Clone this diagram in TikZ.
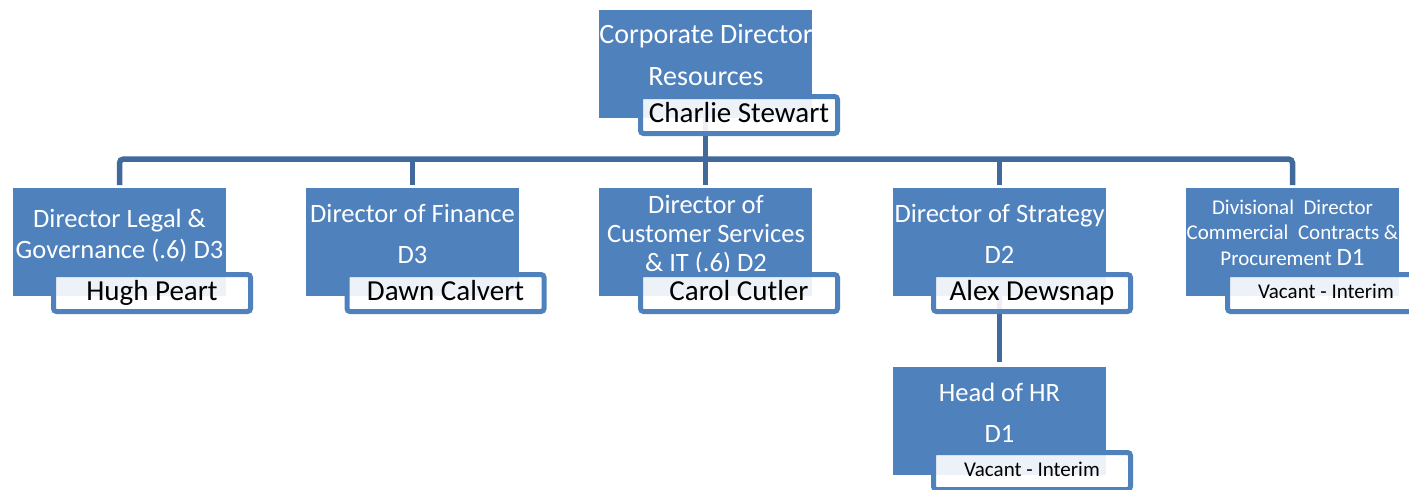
\documentclass[tikz,border=0pt]{standalone}
\usepackage{fontspec}
\setmainfont{Carlito}
\usetikzlibrary{calc}
\definecolor{boxblue}{HTML}{4F81BD}
\definecolor{lineblue}{HTML}{41699C}
\definecolor{rimblue}{HTML}{4F81BD}
\begin{document}
\begin{tikzpicture}[x=1pt,y=-1pt,
  rolebox/.style={fill=boxblue, draw=none, rectangle, minimum width=213pt, minimum height=108pt, anchor=north west, inner sep=0pt, outer sep=0pt},
  namebox/.style={rectangle, draw=rimblue, line width=5pt, rounded corners=3pt, fill=white, fill opacity=0.9, text opacity=1, minimum width=197pt, minimum height=37pt, inner sep=0pt, text=black},
  bigname/.style={namebox, font=\fontsize{29}{29}\selectfont, text height=20pt, text depth=6pt},
  smallname/.style={namebox, font=\fontsize{21}{21}\selectfont, text height=15pt, text depth=4pt},
  conn/.style={draw=lineblue, line width=5.5pt},
  roletext/.style={text=white, anchor=base, inner sep=0pt, font=\fontsize{26.5}{26.5}\selectfont},
  toptext/.style={roletext, font=\fontsize{28}{28}\selectfont},
  smalltext/.style={roletext, font=\fontsize{21}{21}\selectfont},
]
\useasboundingbox (0,0) rectangle (1409,490);
\clip (0,0) rectangle (1409,490);

% blue role boxes
\node[rolebox] (b0) at (599,10) {};
\node[rolebox] (b1) at (13,188) {};
\node[rolebox] (b2) at (306,188) {};
\node[rolebox] (b3) at (599,188) {};
\node[rolebox] (b4) at (893,188) {};
\node[rolebox] (b5) at (1186,188) {};
\node[rolebox] (b6) at (893,367) {};

% connectors
\coordinate (bus) at (706,159);
\draw[conn, rounded corners=4pt] ([yshift=3pt]b1.north) |- (bus) -| ([yshift=3pt]b5.north);
\draw[conn] (b0.south) -- ([yshift=3pt]b3.north);
\draw[conn] ([yshift=3pt]b2.north) -- (b2.north |- bus);
\draw[conn] ([yshift=3pt]b4.north) -- (b4.north |- bus);
\draw[conn] (b4.south) -- ([yshift=5pt]b6.north);

% role texts
\node[toptext] (t0a) at (706,43) {Corporate Director};
\node[toptext] (t0b) at (706,85) {Resources};

\node[roletext] (t1a) at (119.5,227) {Director Legal \&};
\node[roletext] (t1b) at (119.5,258) {Governance (.6) D3};

\node[roletext] (t2a) at (412.5,222) {Director of Finance};
\node[roletext] (t2b) at (412.5,263) {D3};

\node[roletext] (t3a) at (706,213) {Director of};
\node[roletext] (t3b) at (706,242) {Customer Services};
\node[roletext] (t3c) at (706,271) {\& IT (.6) D2};

\node[roletext] (t4a) at (999.5,222) {Director of Strategy};
\node[roletext] (t4b) at (999.5,263) {D2};

\node[smalltext] (t5a) at (1292.5,214) {Divisional\ \ Director};
\node[smalltext] (t5b) at (1292.5,239) {Commercial\ \ Contracts \&};
\node[smalltext] (t5c) at (1292.5,265) {Procurement {\fontsize{25}{25}\selectfont D1}};

\node[roletext] (t6a) at (999.5,401) {Head of HR};
\node[roletext] (t6b) at (999.5,442) {D1};

% name boxes
\node[bigname] (n0) at ($(b0.south west)+(140,-3)$) {Charlie Stewart};
\node[bigname] (n1) at ($(b1.south west)+(139,-3)$) {Hugh Peart};
\node[bigname] (n2) at ($(b2.south west)+(139.5,-3)$) {Dawn Calvert};
\node[bigname] (n3) at ($(b3.south west)+(140,-3)$) {Carol Cutler};
\node[bigname] (n4) at ($(b4.south west)+(139,-3)$) {Alex Dewsnap};
\node[smallname] (n5) at ($(b5.south west)+(140,-3)$) {Vacant - Interim};
\node[smallname] (n6) at ($(b6.south west)+(139,-4)$) {Vacant - Interim};
\end{tikzpicture}
\end{document}
